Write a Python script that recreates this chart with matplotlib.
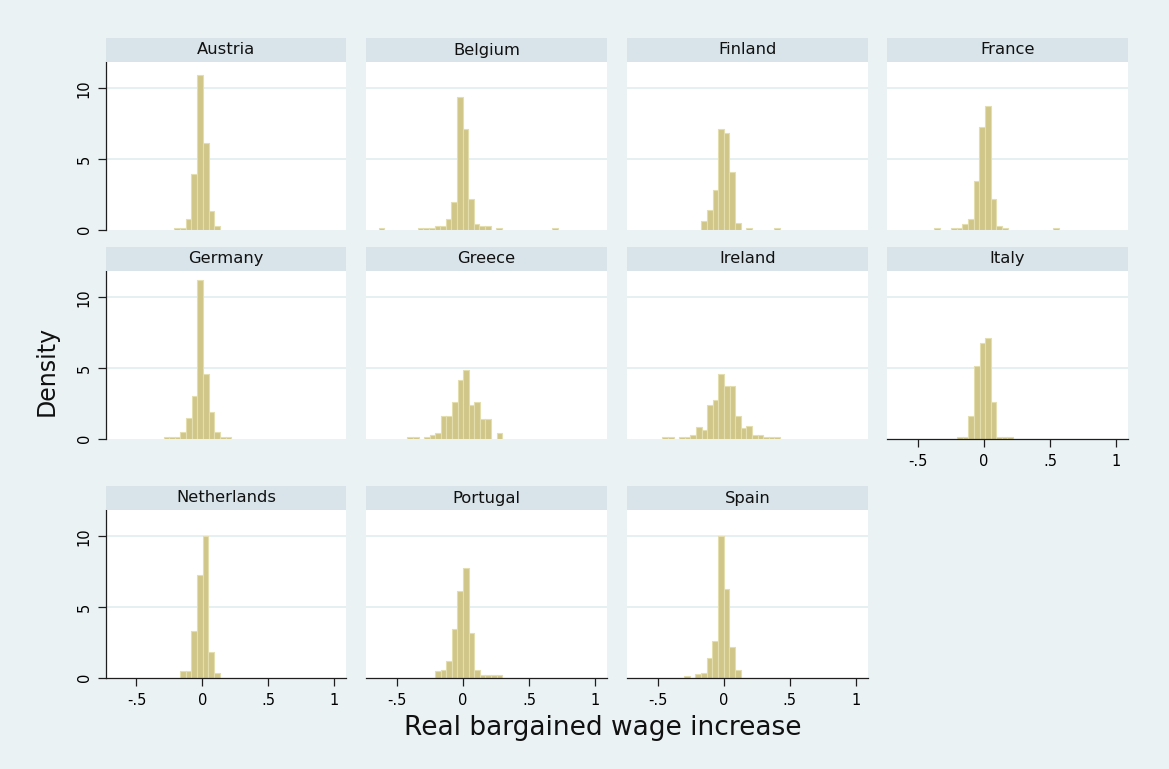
import matplotlib
matplotlib.use("Agg")
import matplotlib.pyplot as plt
from matplotlib.patches import Rectangle
import numpy as np

plt.rcParams['font.family'] = ['DejaVu Sans']

# Countries, in panel order
countries = ["Austria", "Belgium", "Finland", "France",
             "Germany", "Greece", "Ireland", "Italy",
             "Netherlands", "Portugal", "Spain"]

# Left edge of the first bin and bin width for each country
bin_start = [-0.212, -0.639, -0.169, -0.379,
             -0.295, -0.421, -0.465, -0.204,
             -0.169, -0.212, -0.301]
bin_width = [0.0430, 0.0424, 0.0425, 0.0430,
             0.0428, 0.0422, 0.0424, 0.0424,
             0.0429, 0.0424, 0.0430]

# Histogram densities, bin by bin
austria = [0.14, 0.14, 0.71, 3.91, 10.95, 6.09, 1.30, 0.26]
belgium = [0.11, 0, 0, 0, 0, 0, 0, 0.11, 0.11, 0.11, 0.22, 0.22, 0.76, 1.94,
           9.36, 7.15, 2.16, 0.36, 0.22, 0.22, 0, 0.11, 0, 0, 0, 0, 0, 0, 0,
           0, 0, 0.11]
finland = [0.57, 1.40, 2.77, 7.15, 6.85, 4.05, 0.45, 0, 0.14, 0, 0, 0, 0, 0.14]
france = [0.11, 0, 0, 0.11, 0.11, 0.36, 0.71, 3.46, 7.25, 8.74, 2.15, 0.22,
          0.11, 0, 0, 0, 0, 0, 0, 0, 0, 0.11]
germany = [0.14, 0.14, 0.14, 0.43, 1.42, 3.01, 11.23, 4.60, 1.87, 0.43, 0.14, 0.14]
greece = [0.12, 0.12, 0, 0.12, 0.24, 0.36, 1.59, 1.59, 2.58, 4.17, 4.86, 2.35,
          2.58, 1.35, 1.35, 0, 0.36]
ireland = [0.12, 0.12, 0, 0.12, 0.12, 0.28, 0.83, 0.57, 2.35, 2.75, 4.55, 3.70,
           3.70, 1.56, 0.71, 0.85, 0.28, 0.28, 0.12, 0.12, 0.12]
italy = [0.10, 0.10, 1.59, 5.10, 6.75, 7.13, 2.58, 0.10, 0.10, 0.10]
netherlands = [0.49, 0.49, 3.32, 7.25, 10.00, 1.81, 0.35]
portugal = [0.45, 0.56, 1.20, 3.41, 6.16, 7.76, 3.18, 0.56, 0.16, 0.16, 0.16, 0.16]
spain = [0.12, 0, 0.26, 0.35, 1.36, 2.59, 10.02, 6.28, 2.14, 0.54]

densities = [austria, belgium, finland, france, germany, greece, ireland,
             italy, netherlands, portugal, spain]

x_ticks = [-0.5, 0, 0.5, 1]
x_tick_labels = ["-.5", "0", ".5", "1"]
y_ticks = [0, 5, 10]
y_tick_labels = ["0", "5", "10"]

# Colours
BG = "#EAF2F3"
STRIP = "#D8E4EA"
GRID = "#E3EDEF"
BAR = "#D0C68A"
BAR_EDGE = "#E4DDAE"
AXIS = "#1E1E1E"

W, H = 1169, 769
fig = plt.figure(figsize=(W / 100, H / 100), dpi=100, facecolor=BG)

col_left = [105.7, 366.3, 627.0, 887.3]
row_top = [62.0, 271.0, 510.0]
panel_w = 240.6
panel_h = 167.5
strip_h = 24.0
XLIM = (-0.733, 1.090)
YLIM = (0, 11.86)
ncols = 4
n = len(countries)

for i, name in enumerate(countries):
    r, c = divmod(i, ncols)
    left, top = col_left[c], row_top[r]
    ax = fig.add_axes([left / W, 1 - (top + panel_h) / H, panel_w / W, panel_h / H])
    ax.set_facecolor("white")
    ax.set_xlim(*XLIM)
    ax.set_ylim(*YLIM)

    for g in (5, 10):
        ax.axhline(g, color=GRID, lw=1.2, zorder=1)

    h = np.array(densities[i], dtype=float)
    edges = bin_start[i] + bin_width[i] * np.arange(len(h))
    keep = h > 0
    ax.bar(edges[keep], h[keep], width=bin_width[i], align="edge",
           color=BAR, edgecolor=BAR_EDGE, linewidth=0.8, zorder=2)

    for s in ax.spines.values():
        s.set_visible(False)

    bottom_panel = i + ncols >= n
    if c == 0:
        ax.spines["left"].set_visible(True)
        ax.spines["left"].set_color(AXIS)
        ax.spines["left"].set_linewidth(0.9)
        ax.set_yticks(y_ticks)
        ax.set_yticklabels(y_tick_labels, rotation=90, va="center")
        ax.tick_params(axis="y", direction="out", length=5.5, width=0.9,
                       color=AXIS, labelsize=10.5, pad=4.5)
    else:
        ax.set_yticks([])

    if bottom_panel:
        ax.spines["bottom"].set_visible(True)
        ax.spines["bottom"].set_color(AXIS)
        ax.spines["bottom"].set_linewidth(0.9)
        ax.set_xticks(x_ticks)
        ax.set_xticklabels(x_tick_labels)
        ax.tick_params(axis="x", direction="out", length=5.5, width=0.9,
                       color=AXIS, labelsize=10.5, pad=6)
    else:
        ax.set_xticks([])

    # Title strip above the panel
    fig.patches.append(Rectangle((left / W, 1 - top / H), panel_w / W, strip_h / H,
                                 transform=fig.transFigure, facecolor=STRIP,
                                 edgecolor="none", zorder=0))
    fig.text((left + panel_w / 2) / W, 1 - (top - strip_h / 2) / H, name,
             ha="center", va="center", fontsize=11.8, color="#111111")

fig.text(47 / W, 1 - 371 / H, "Density", rotation=90, ha="center", va="center",
         fontsize=17, color="#111111")
fig.text(603 / W, 1 - 728 / H, "Real bargained wage increase", ha="center",
         va="center", fontsize=19, color="#111111")

fig.savefig("out.png", dpi=100, facecolor=BG)
